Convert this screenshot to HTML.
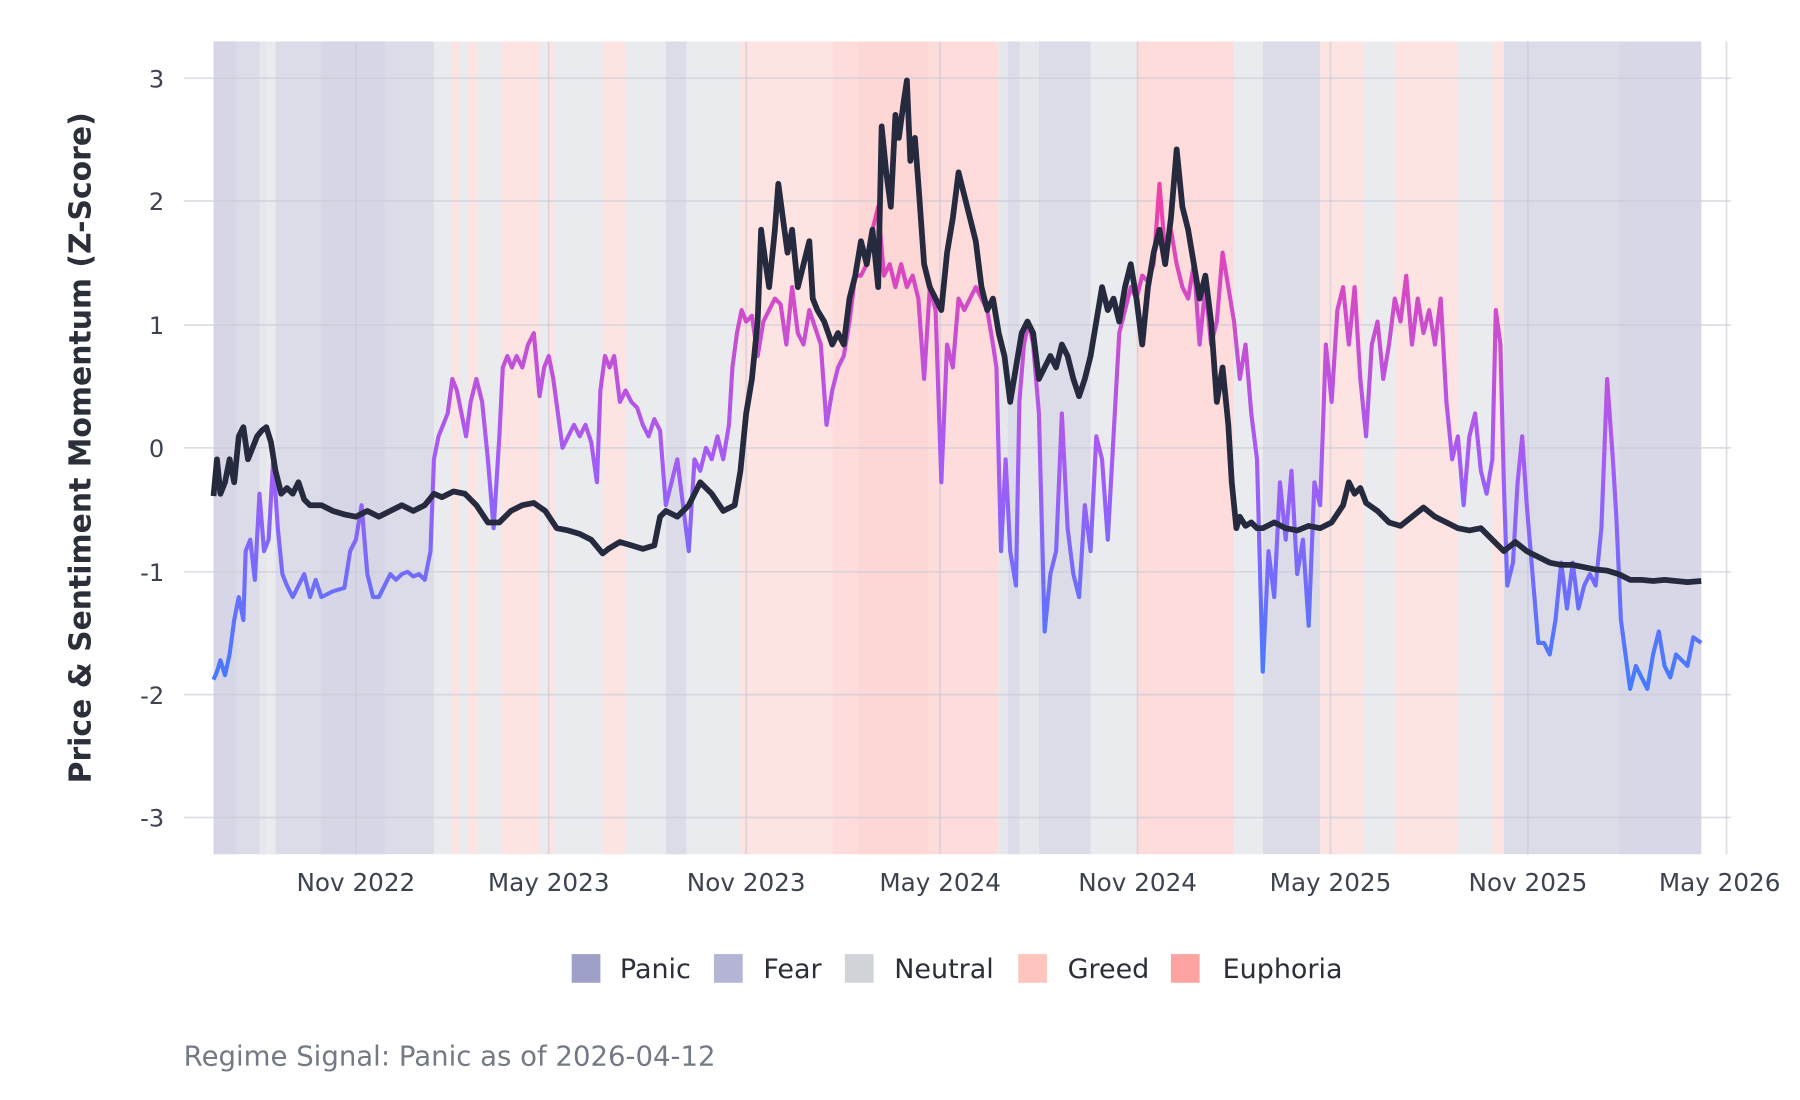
<!DOCTYPE html>
<html><head><meta charset="utf-8"><style>html,body{margin:0;padding:0;background:#fff}svg{display:block}</style></head>
<body>
<svg width="1800" height="1100" viewBox="0 0 1568 958" xmlns="http://www.w3.org/2000/svg" font-family="'DejaVu Sans','Liberation Sans',sans-serif">
<defs>
<linearGradient id="sg" gradientUnits="userSpaceOnUse" x1="0" y1="605" x2="0" y2="160">
<stop offset="0" stop-color="#3f7dff"/><stop offset="0.45" stop-color="#a45cf6"/><stop offset="1" stop-color="#f33fa5"/>
</linearGradient>
</defs>
<g>
<rect x="186" y="36" width="192" height="708" fill="#dcdce9"/>
<rect x="186" y="36" width="20" height="708" fill="#d6d6e6"/>
<rect x="226" y="36" width="6" height="708" fill="#e6e7ec"/>
<rect x="232" y="36" width="8" height="708" fill="#eaebee"/>
<rect x="280" y="36" width="55" height="708" fill="#d6d6e6"/>
<rect x="378" y="36" width="267" height="708" fill="#eaebee"/>
<rect x="393" y="36" width="7" height="708" fill="#fde3e1"/>
<rect x="408" y="36" width="8" height="708" fill="#fde3e1"/>
<rect x="437" y="36" width="33" height="708" fill="#fde3e1"/>
<rect x="477" y="36" width="6" height="708" fill="#fde3e1"/>
<rect x="525" y="36" width="20" height="708" fill="#fde3e1"/>
<rect x="580" y="36" width="18" height="708" fill="#dcdce9"/>
<rect x="645" y="36" width="80" height="708" fill="#fde3e1"/>
<rect x="725" y="36" width="145" height="708" fill="#fddcdb"/>
<rect x="748" y="36" width="60" height="708" fill="#fdd6d6"/>
<rect x="870" y="36" width="35" height="708" fill="#e6e7ec"/>
<rect x="878" y="36" width="10" height="708" fill="#dcdce9"/>
<rect x="905" y="36" width="45" height="708" fill="#dcdce9"/>
<rect x="950" y="36" width="40" height="708" fill="#eaebee"/>
<rect x="990" y="36" width="85" height="708" fill="#fddcdb"/>
<rect x="1075" y="36" width="25" height="708" fill="#eaebee"/>
<rect x="1100" y="36" width="50" height="708" fill="#dcdce9"/>
<rect x="1150" y="36" width="38" height="708" fill="#fde3e1"/>
<rect x="1188" y="36" width="27" height="708" fill="#eaebee"/>
<rect x="1215" y="36" width="55" height="708" fill="#fde3e1"/>
<rect x="1270" y="36" width="30" height="708" fill="#eaebee"/>
<rect x="1300" y="36" width="10" height="708" fill="#fde3e1"/>
<rect x="1310" y="36" width="100" height="708" fill="#dcdce9"/>
<rect x="1410" y="36" width="72" height="708" fill="#d7d7e7"/>
</g>
<g stroke="#c8c9d6" stroke-opacity="0.6" stroke-width="1.5">
<line x1="160" x2="1508" y1="68" y2="68"/><line x1="160" x2="1508" y1="175" y2="175"/><line x1="160" x2="1508" y1="283" y2="283"/><line x1="160" x2="1508" y1="390" y2="390"/><line x1="160" x2="1508" y1="498" y2="498"/><line x1="160" x2="1508" y1="605" y2="605"/><line x1="160" x2="1508" y1="712" y2="712"/>
<line x1="310" x2="310" y1="36" y2="744"/><line x1="478" x2="478" y1="36" y2="744"/><line x1="650" x2="650" y1="36" y2="744"/><line x1="819" x2="819" y1="36" y2="744"/><line x1="991" x2="991" y1="36" y2="744"/><line x1="1159" x2="1159" y1="36" y2="744"/><line x1="1331" x2="1331" y1="36" y2="744"/><line x1="1504" x2="1504" y1="36" y2="744"/>
</g>
<polyline fill="none" stroke="url(#sg)" stroke-width="3.6" stroke-linejoin="round" points="186,592 189,585 192,575 196,588 200,570 204,540 208,520 212,540 214,480 218,470 222,505 226,430 230,480 234,470 238,400 242,460 246,500 250,510 255,520 260,510 265,500 270,520 275,505 280,520 290,515 300,512 305,480 310,470 315,440 320,500 325,520 330,520 335,510 340,500 345,505 350,500 355,498 360,502 365,500 370,505 375,480 378,400 382,380 386,370 390,360 394,330 398,340 402,360 406,380 410,350 415,330 420,350 425,400 430,460 435,380 438,320 442,310 446,320 450,310 455,320 460,300 465,290 470,345 474,320 478,310 482,330 486,360 490,390 495,380 500,370 505,380 510,370 515,385 520,420 523,340 527,310 531,320 535,310 540,350 545,340 550,350 555,355 560,370 565,380 570,365 575,375 580,440 585,420 590,400 595,440 600,480 605,400 610,410 615,390 620,400 625,380 630,400 635,370 638,320 642,290 646,270 650,280 655,275 660,310 665,280 670,270 675,260 680,265 685,300 690,250 695,290 700,300 705,270 710,285 715,300 720,370 725,340 730,320 735,310 740,280 745,240 750,240 755,230 760,200 765,180 770,240 775,230 780,250 785,230 790,250 795,240 800,260 805,330 810,250 815,270 820,420 825,300 830,320 835,260 840,270 845,260 850,250 855,260 860,270 865,300 868,320 872,480 876,400 880,480 885,510 888,350 892,300 896,280 900,300 905,360 910,550 915,500 920,480 925,360 930,460 935,500 940,520 945,440 950,480 955,380 960,400 965,470 970,380 975,290 980,270 985,250 990,260 995,240 1000,245 1005,230 1010,160 1015,220 1020,200 1025,230 1030,250 1035,260 1040,230 1045,300 1050,250 1055,300 1060,280 1065,220 1070,250 1075,280 1080,330 1085,300 1090,360 1095,400 1100,585 1105,480 1110,520 1115,420 1120,470 1125,410 1130,500 1135,470 1140,545 1145,420 1150,440 1155,300 1160,350 1165,270 1170,250 1175,300 1180,250 1185,330 1190,380 1195,300 1200,280 1205,330 1210,300 1215,260 1220,280 1225,240 1230,300 1235,260 1240,290 1245,270 1250,300 1255,260 1260,350 1265,400 1270,380 1275,440 1280,380 1285,360 1290,410 1295,430 1300,400 1303,270 1307,300 1310,420 1313,510 1318,490 1322,420 1326,380 1330,440 1335,500 1340,560 1345,560 1350,570 1355,540 1360,490 1365,530 1370,490 1375,530 1380,510 1385,500 1390,510 1395,460 1400,330 1405,400 1408,450 1412,540 1416,570 1420,600 1425,580 1430,590 1435,600 1440,570 1445,550 1450,580 1455,590 1460,570 1465,575 1470,580 1475,555 1482,560"/>
<polyline fill="none" stroke="#262a3e" stroke-width="5" stroke-linejoin="round" points="186,432 189,400 192,430 196,420 200,400 204,420 208,380 212,372 216,400 220,390 224,380 228,375 232,372 236,385 240,410 245,430 250,425 255,430 260,420 265,435 270,440 280,440 290,445 300,448 310,450 320,445 330,450 340,445 350,440 360,445 370,440 378,430 385,433 395,428 405,430 415,440 425,455 435,455 445,445 455,440 465,438 475,445 485,460 495,462 505,465 515,470 525,482 530,478 540,472 550,475 560,478 570,475 575,450 580,445 590,450 600,440 610,420 620,430 630,445 640,440 645,410 650,360 655,330 660,280 663,200 667,230 670,250 675,200 678,160 682,190 686,220 690,200 695,250 700,230 705,210 708,260 712,270 718,280 725,300 730,290 735,300 740,260 745,240 750,210 755,230 760,200 765,250 768,110 772,150 776,180 780,100 783,120 787,90 790,70 793,140 797,120 800,160 805,230 810,250 815,260 820,270 825,220 830,190 835,150 840,170 845,190 850,210 855,250 860,270 865,260 870,290 875,310 880,350 885,320 890,290 895,280 900,290 905,330 910,320 915,310 920,320 925,300 930,310 935,330 940,345 945,330 950,310 955,280 960,250 965,270 970,260 975,280 980,250 985,230 990,260 995,300 1000,250 1005,220 1010,200 1015,230 1020,190 1025,130 1030,180 1035,200 1040,230 1045,260 1050,240 1055,280 1060,350 1065,320 1070,370 1073,420 1077,460 1080,450 1085,458 1090,455 1095,460 1100,460 1110,455 1120,460 1130,462 1140,458 1150,460 1160,455 1170,440 1175,420 1180,430 1185,425 1190,438 1200,445 1210,455 1220,458 1230,450 1240,442 1250,450 1260,455 1270,460 1280,462 1290,460 1300,470 1310,480 1320,472 1330,480 1340,485 1350,490 1360,492 1370,492 1380,494 1390,496 1400,497 1410,500 1420,505 1430,505 1440,506 1450,505 1460,506 1470,507 1482,506"/>
<g font-size="21" fill="#3d4450" text-anchor="end">
<text x="143" y="76">3</text><text x="143" y="183">2</text><text x="143" y="291">1</text><text x="143" y="398">0</text><text x="143" y="506">-1</text><text x="143" y="613">-2</text><text x="143" y="720">-3</text>
</g>
<text transform="translate(79,390) rotate(-90)" text-anchor="middle" font-size="26" font-weight="bold" fill="#2b2f3a">Price &amp; Sentiment Momentum (Z-Score)</text>
<g font-size="21.5" fill="#3d4450" text-anchor="middle">
<text x="310" y="776">Nov 2022</text><text x="478" y="776">May 2023</text><text x="650" y="776">Nov 2023</text><text x="819" y="776">May 2024</text><text x="991" y="776">Nov 2024</text><text x="1159" y="776">May 2025</text><text x="1331" y="776">Nov 2025</text><text x="1498" y="776">May 2026</text>
</g>
<g font-size="23.5" fill="#2b2f3a">
<rect x="498" y="831" width="25" height="25" fill="#9fa0c8"/><text x="540" y="852">Panic</text>
<rect x="622" y="831" width="25" height="25" fill="#b4b4d4"/><text x="665" y="852">Fear</text>
<rect x="736" y="831" width="25" height="25" fill="#d0d3d8"/><text x="779" y="852">Neutral</text>
<rect x="887" y="831" width="25" height="25" fill="#fdc5bd"/><text x="930" y="852">Greed</text>
<rect x="1020" y="831" width="25" height="25" fill="#fda4a2"/><text x="1065" y="852">Euphoria</text>
</g>
<text x="160" y="928" font-size="24" fill="#737a85">Regime Signal: Panic as of 2026-04-12</text>
</svg>
</body></html>
